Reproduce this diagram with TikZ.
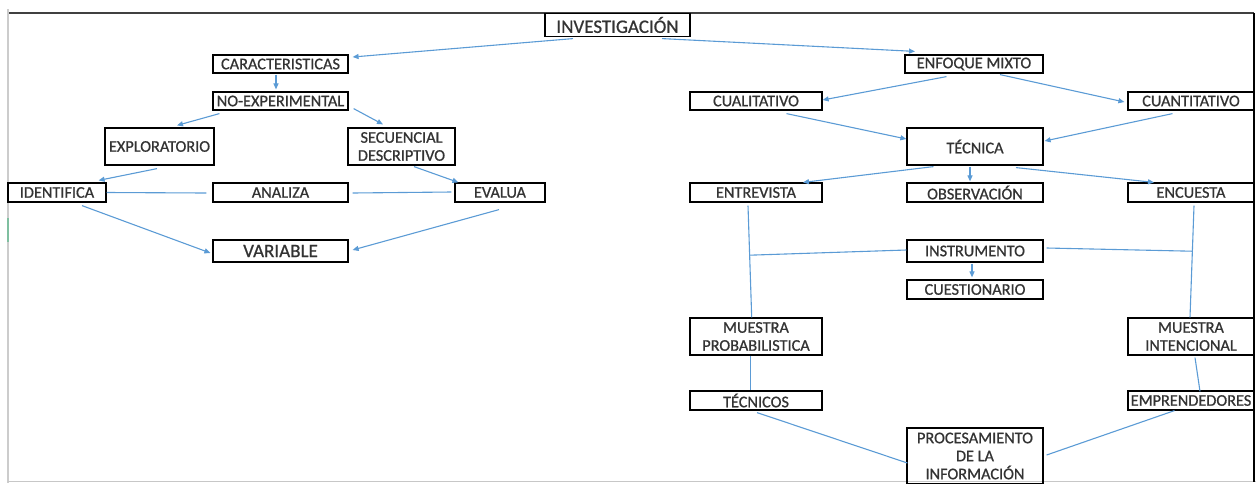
\documentclass[tikz,border=0pt]{standalone}
\usepackage{fontspec}
\setmainfont{Carlito}[FakeBold=0.8]
\usepackage{tikz}
\usetikzlibrary{arrows.meta, calc, positioning}
\definecolor{linkblue}{HTML}{5B9BD5}
\definecolor{markgreen}{HTML}{7FBFA0}

\begin{document}
\begin{tikzpicture}[x=1pt, y=-1pt]
\tikzset{box/.style={draw=black, line width=1.2pt, inner sep=0pt, text=black!80, align=center, font=\fontsize{16.3}{18}\selectfont},
  big box/.style={box, font=\fontsize{19}{21}\selectfont},
  link/.style={draw=linkblue, line width=1.1pt},
  arr/.style={link, -{Triangle[length=6pt, width=5pt]}}}
  \useasboundingbox (0,0) rectangle (1256,483);
  \draw[black!75, line width=2pt] (8,13) -- (1254,13);
  \draw[black!20, line width=1.5pt] (8,9) -- (8,483);
  \draw[black!22, line width=1.5pt] (8,481.5) -- (1256,481.5);
  \draw[black, line width=1.2pt] (1254,13) -- (1254,482);
  \draw[markgreen, line width=1.5pt] (8,218) -- (8,242);

  \node [big box, minimum width=145, minimum height=23] (INV) at (617.5,25) {INVESTIGACIÓN};
  \node [box, minimum width=135, minimum height=18] (CAR) at (280.5,64) {CARACTERISTICAS};
  \node [box, minimum width=135, minimum height=18] (NOE) at (280.5,101) {NO-EXPERIMENTAL};
  \node [box, minimum width=109, minimum height=37] (EXP) at (159.5,146.5) {EXPLORATORIO};
  \node [box, minimum width=107, minimum height=37] (SEC) at (401.5,146.5) {SECUENCIAL\\DESCRIPTIVO};
  \node [box, minimum width=98, minimum height=19] (IDE) at (57,192.5) {IDENTIFICA};
  \node [box, minimum width=135, minimum height=19] (ANA) at (280.5,192.5) {ANALIZA};
  \node [box, minimum width=90, minimum height=19] (EVA) at (500,192.5) {EVALUA};
  \node [big box, minimum width=135, minimum height=22] (VAR) at (280.5,251) {VARIABLE};

  \node [box, minimum width=138, minimum height=18] (ENF) at (974,64) {ENFOQUE MIXTO};
  \node [box, minimum width=132, minimum height=18] (CUAL) at (756,101) {CUALITATIVO};
  \node [box, minimum width=126, minimum height=18] (CUAN) at (1191,101) {CUANTITATIVO};
  \node [box, minimum width=136, minimum height=37] (TEC) at (975,146.5) {TÉCNICA};
  \node [box, minimum width=132, minimum height=19] (ENT) at (756,192.5) {ENTREVISTA};
  \node [box, minimum width=136, minimum height=19] (OBS) at (975,192.5) {OBSERVACIÓN};
  \node [box, minimum width=126, minimum height=19] (ENC) at (1191,192.5) {ENCUESTA};
  \node [box, minimum width=136, minimum height=22] (INS) at (975,251) {INSTRUMENTO};
  \node [box, minimum width=136, minimum height=19] (CUE) at (975,289.5) {CUESTIONARIO};
  \node [box, minimum width=132, minimum height=37] (MPR) at (756,336.5) {MUESTRA\\PROBABILISTICA};
  \node [box, minimum width=126, minimum height=37] (MIN) at (1191,336.5) {MUESTRA\\INTENCIONAL};
  \node [box, minimum width=132, minimum height=19] (TCS) at (756,400.5) {TÉCNICOS};
  \node [box, minimum width=126, minimum height=19] (EMP) at (1191,400.5) {EMPRENDEDORES};
  \node [box, minimum width=136, minimum height=56] (PRO) at (975,456) {PROCESAMIENTO\\DE LA\\INFORMACIÓN};

  \draw[arr] ($(INV.south)+(-44.5,1.5)$) -- ($(CAR.east)+(4,-7)$);
  \draw[arr] ($(INV.south)+(44.5,1.5)$) -- ($(ENF.north)+(-59,-3)$);
  \draw[arr] ($(CAR.south)+(-4.5,1)$) -- ($(NOE.north)+(-4.5,-2)$);
  \draw[arr] ($(NOE.south west)+(7,3)$) -- ($(EXP.north)+(17.5,-2)$);
  \draw[arr] ($(NOE.south east)+(5,-2)$) -- ($(SEC.north)+(-18.5,-3)$);
  \draw[arr] ($(EXP.south)+(-2.5,3)$) -- ($(IDE.north east)+(-8,-2)$);
  \draw[arr] ($(SEC.south)+(12.5,1)$) -- ($(EVA.north west)+(4,0)$);
  \draw[link] (IDE.east) -- ($(ANA.west)+(-6,0.5)$);
  \draw[link] ($(ANA.east)+(4,0.5)$) -- ($(EVA.west)+(-3,-0.5)$);
  \draw[arr] ($(IDE.south)+(25,3)$) -- ($(VAR.west)+(-2,2)$);
  \draw[arr] ($(EVA.south)+(-1,7)$) -- ($(VAR.east)+(4,-1)$);

  \draw[arr] ($(ENF.south)+(-27.5,3)$) -- ($(CUAL.east)+(0,-1)$);
  \draw[arr] ($(ENF.south)+(26,1)$) -- ($(CUAN.west)+(-3,1)$);
  \draw[arr] ($(CUAL.south)+(30.5,3)$) -- ($(TEC.west)+(0,-7.5)$);
  \draw[arr] ($(CUAN.south)+(-18.5,3)$) -- ($(TEC.east)+(1,-5.5)$);
  \draw[arr] ($(TEC.south)+(-41.5,1)$) -- ($(ENT.north)+(47,0)$);
  \draw[arr] ($(TEC.south)+(-5,1)$) -- ($(OBS.north)+(-5,-1)$);
  \draw[arr] ($(TEC.south)+(41,2)$) -- ($(ENC.north)+(-37,0)$);

  \coordinate (ENTb) at ($(ENT.south)+(-8,3)$);
  \coordinate (MPRt) at ($(MPR.north)+(-4.3,0)$);
  \coordinate (ENCb) at ($(ENC.south)+(3,3)$);
  \coordinate (MINt) at ($(MIN.north)+(-1,0)$);
  \draw[link] (ENTb) -- (MPRt);
  \draw[link] (ENCb) -- (MINt);
  \draw[link] ($(INS.west)+(0,-1)$) -- ($(ENTb)!($(INS.west)+(0,-1)$)!(MPRt)$);
  \draw[link] ($(INS.east)+(3,-3)$) -- ($(ENCb)!($(INS.east)+(3,-5)$)!(MINt)$);
  \draw[arr] ($(INS.south)+(-3,1)$) -- ($(CUE.north)+(-3,-2)$);

  \draw[link] ($(MPR.south)+(-5.4,0)$) -- ($(TCS.north)+(-5.4,0)$);
  \draw[link] ($(MIN.south)+(4,2)$) -- ($(EMP.north)+(9,1)$);
  \draw[link] ($(TCS.south)+(1,2)$) -- ($(PRO.west)+(1,7)$);
  \draw[link] ($(EMP.south)+(-16.5,0)$) -- ($(PRO.east)+(3,-1)$);
\end{tikzpicture}
\end{document}
